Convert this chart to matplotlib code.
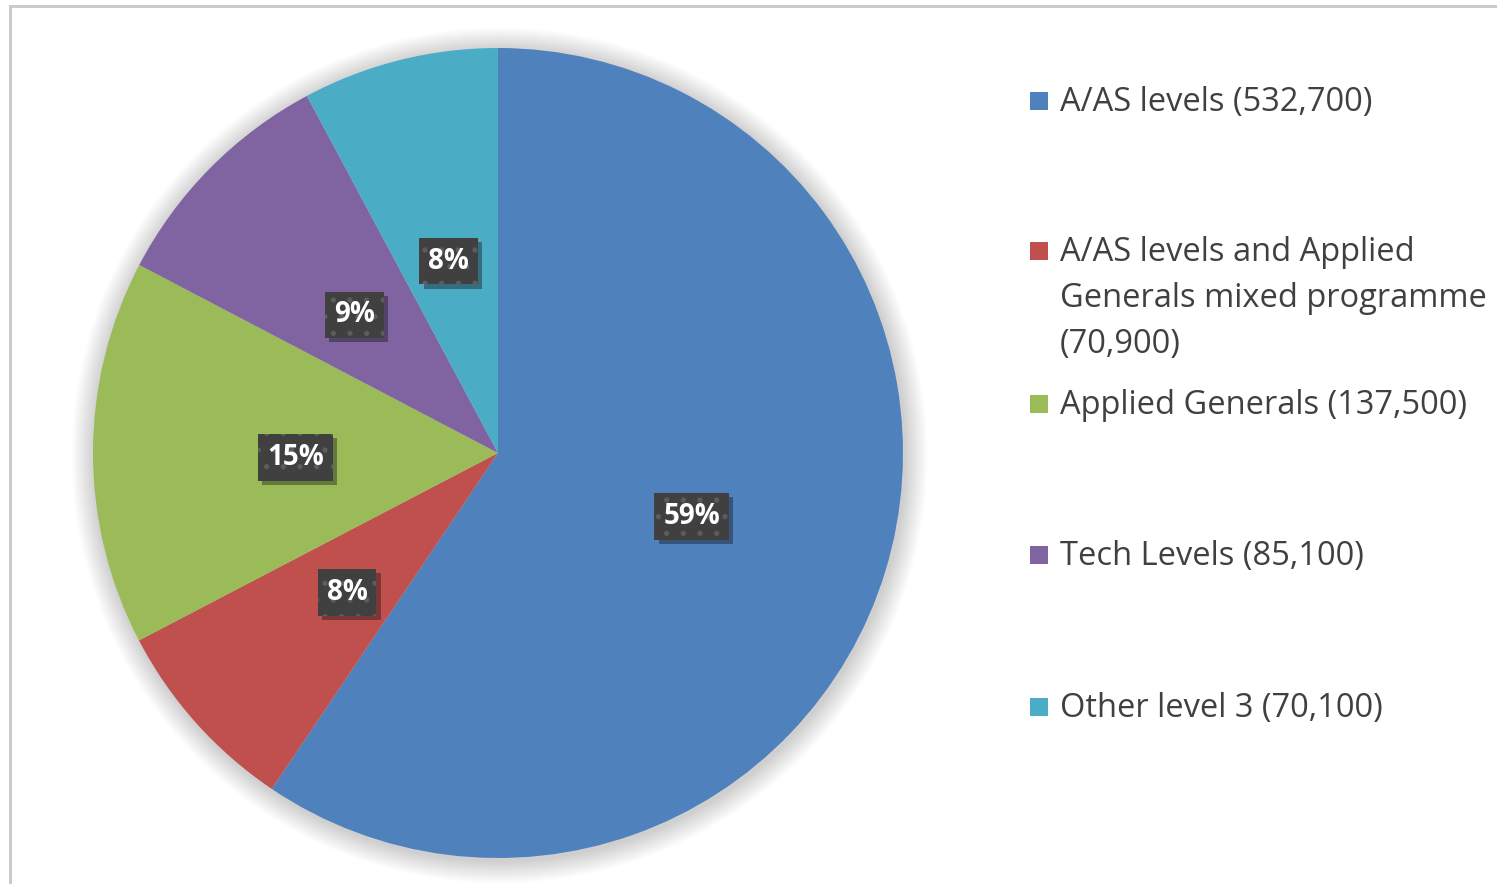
import matplotlib
matplotlib.use("Agg")
import matplotlib.pyplot as plt
from matplotlib.patches import Rectangle, Circle
import matplotlib.patheffects as pe

categories = ["A/AS levels (532,700)",
              "A/AS levels and Applied\nGenerals mixed programme\n(70,900)",
              "Applied Generals (137,500)",
              "Tech Levels (85,100)",
              "Other level 3 (70,100)"]
values = [532700, 70900, 137500, 85100, 70100]
colors = ["#4F81BD", "#C0504D", "#9BBB59", "#8064A2", "#4BACC6"]

W, H = 1497, 884
fig = plt.figure(figsize=(W / 100, H / 100), dpi=100)
fig.patch.set_facecolor("white")

# chart frame
fig.add_artist(plt.Line2D([9.5 / W, 9.5 / W], [0, 1 - 5.5 / H], color="#c8c8c8", lw=2))
fig.add_artist(plt.Line2D([9.5 / W, 1], [1 - 5.5 / H, 1 - 5.5 / H], color="#c8c8c8", lw=2))

cx, cy, R = 498, 453, 405
ax = fig.add_axes([(cx - R) / W, (H - cy - R) / H, 2 * R / W, 2 * R / H])

# soft shadow around pie
n = 16
for i in range(n):
    ax.add_patch(Circle((0.004, -0.006), 1 + 0.0035 * (n - i), color="#000000",
                        alpha=0.012, lw=0, zorder=0, clip_on=False))

wedges, texts, autotexts = ax.pie(values, colors=colors, startangle=90, counterclock=False,
                                  autopct=lambda p: f"{p:.0f}%", pctdistance=0.5,
                                  wedgeprops=dict(linewidth=0))
plt.rcParams["hatch.color"] = "#5c5c5c"
plt.rcParams["hatch.linewidth"] = 1.4
fam = ["Open Sans", "DejaVu Sans"]
dy = 4.5 / R
for t in autotexts:
    x, y = t.get_position()
    y -= dy
    s = t.get_text()
    kw = dict(fontfamily=fam, fontweight="bold", fontsize=20, ha="center", va="center")
    base = ax.text(x, y, s, color="none", zorder=4,
                   bbox=dict(boxstyle="square,pad=0.32", fc="#404040", ec="none", lw=0), **kw)
    base.get_bbox_patch().set_path_effects([pe.SimplePatchShadow(offset=(3, -3), alpha=0.4),
                                            pe.Normal()])
    ax.text(x, y, s, color="none", zorder=5,
            bbox=dict(boxstyle="square,pad=0.32", fc="none", ec="#5c5c5c", lw=0, hatch="."), **kw)
    t.set(fontfamily=fam, fontweight="bold", fontsize=20, color="white", zorder=6,
          position=(x, y))
ax.set_xlim(-1, 1)
ax.set_ylim(-1, 1)
ax.set_aspect("equal")
ax.axis("off")

# legend
baselines = [111, 261, 414, 565, 717]
line_gap = 46
for lab, col, yb in zip(categories, colors, baselines):
    fig.add_artist(Rectangle((1030 / W, (H - yb + 1) / H), 18 / W, 18 / H,
                             transform=fig.transFigure, color=col, lw=0))
    for k, line in enumerate(lab.split("\n")):
        fig.text(1060 / W, (H - yb - k * line_gap) / H, line, fontsize=23.5, color="#404040",
                 family=fam, va="baseline", ha="left")

fig.savefig("out.png", dpi=100)
